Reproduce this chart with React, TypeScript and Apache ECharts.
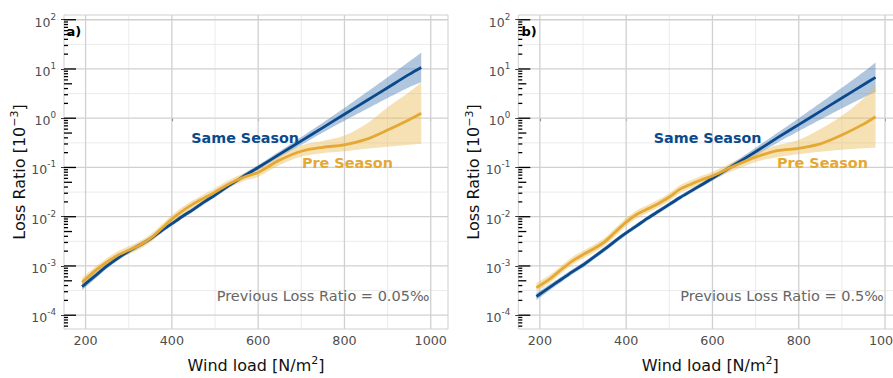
import React, { useEffect, useRef } from "react";
import * as echarts from "echarts";

// ---------- data (y values are log10 of Loss Ratio [10^-3]) ----------
const X = [192, 225, 250, 275, 300, 325, 350, 375, 400, 425, 450, 475, 500, 525, 550, 575, 600, 650, 700, 750, 800, 850, 900, 950, 978];

// Panel a) Previous Loss Ratio = 0.05‰
const SAME_A = [-3.42, -3.18, -3.0, -2.84, -2.7, -2.58, -2.45, -2.29, -2.14, -1.99, -1.85, -1.7, -1.56, -1.41, -1.27, -1.13, -1.0, -0.73, -0.46, -0.19, 0.08, 0.35, 0.62, 0.89, 1.03];
const SAME_A_LO = [-3.49, -3.24, -3.05, -2.89, -2.75, -2.63, -2.5, -2.34, -2.185, -2.035, -1.895, -1.745, -1.605, -1.455, -1.315, -1.18, -1.05, -0.79, -0.54, -0.29, -0.05, 0.18, 0.41, 0.63, 0.73];
const SAME_A_HI = [-3.35, -3.12, -2.95, -2.79, -2.65, -2.53, -2.4, -2.24, -2.095, -1.945, -1.805, -1.655, -1.515, -1.365, -1.225, -1.08, -0.95, -0.67, -0.38, -0.09, 0.21, 0.52, 0.83, 1.15, 1.33];
const PRE_A = [-3.33, -3.08, -2.92, -2.78, -2.68, -2.58, -2.44, -2.25, -2.05, -1.88, -1.74, -1.62, -1.5, -1.37, -1.26, -1.17, -1.1, -0.85, -0.67, -0.59, -0.54, -0.43, -0.24, -0.03, 0.1];
const PRE_A_LO = [-3.42, -3.16, -3.0, -2.86, -2.76, -2.66, -2.52, -2.33, -2.13, -1.96, -1.82, -1.7, -1.58, -1.45, -1.34, -1.25, -1.19, -0.95, -0.78, -0.71, -0.67, -0.62, -0.58, -0.54, -0.52];
const PRE_A_HI = [-3.24, -3.0, -2.84, -2.7, -2.6, -2.5, -2.36, -2.17, -1.97, -1.8, -1.66, -1.54, -1.42, -1.29, -1.18, -1.09, -1.01, -0.75, -0.55, -0.46, -0.35, -0.12, 0.22, 0.53, 0.73];

// Panel b) Previous Loss Ratio = 0.5‰
const SAME_B = [-3.62, -3.42, -3.27, -3.12, -2.98, -2.82, -2.66, -2.49, -2.33, -2.18, -2.03, -1.89, -1.75, -1.61, -1.48, -1.35, -1.22, -0.95, -0.68, -0.4, -0.13, 0.14, 0.41, 0.68, 0.83];
const SAME_B_LO = [-3.69, -3.48, -3.325, -3.17, -3.03, -2.87, -2.71, -2.54, -2.375, -2.225, -2.075, -1.935, -1.795, -1.655, -1.525, -1.395, -1.27, -1.01, -0.76, -0.5, -0.26, -0.03, 0.2, 0.42, 0.53];
const SAME_B_HI = [-3.55, -3.36, -3.215, -3.07, -2.93, -2.77, -2.61, -2.44, -2.285, -2.135, -1.985, -1.845, -1.705, -1.565, -1.435, -1.305, -1.17, -0.89, -0.6, -0.3, 0.0, 0.31, 0.62, 0.94, 1.13];
const PRE_B = [-3.44, -3.25, -3.07, -2.9, -2.77, -2.65, -2.51, -2.31, -2.11, -1.95, -1.84, -1.73, -1.6, -1.44, -1.34, -1.25, -1.17, -0.97, -0.79, -0.66, -0.61, -0.52, -0.34, -0.12, 0.03];
const PRE_B_LO = [-3.53, -3.33, -3.15, -2.98, -2.85, -2.73, -2.59, -2.39, -2.19, -2.03, -1.92, -1.81, -1.68, -1.52, -1.42, -1.33, -1.25, -1.06, -0.89, -0.79, -0.73, -0.68, -0.64, -0.61, -0.6];
const PRE_B_HI = [-3.35, -3.17, -2.99, -2.82, -2.69, -2.57, -2.43, -2.23, -2.03, -1.87, -1.76, -1.65, -1.52, -1.36, -1.26, -1.17, -1.09, -0.88, -0.69, -0.55, -0.44, -0.22, 0.05, 0.4, 0.67];

// axes
const X_MIN = 150;
const X_MAX = 1040;
const Y_MIN = -4.28;
const Y_MAX = 2.096;
const X_TICKS = [200, 400, 600, 800, 1000];
const X_MINOR = [300, 500, 700, 900];
const Y_TICKS = [-4, -3, -2, -1, 0, 1, 2];
const Y_MINOR = [-3.5, -2.5, -1.5, -0.5, 0.5, 1.5];
const LOG_DECADES = [-5, -4, -3, -2, -1, 0, 1, 2];
const LOG_STEPS = [1, 2, 3, 4, 5, 6, 7, 8, 9];

// annotations
const ANN_A = [
  { text: "Same Season", x: 571, y: -0.414, kind: "same" },
  { text: "Pre Season", x: 808, y: -0.91, kind: "pre" },
  { text: "Previous Loss Ratio = 0.05‰", x: 998, y: -3.615, kind: "note" },
  { text: "a)", x: 157, y: 1.757, kind: "tag" },
];
const ANN_B = [
  { text: "Same Season", x: 590, y: -0.414, kind: "same" },
  { text: "Pre Season", x: 856, y: -0.91, kind: "pre" },
  { text: "Previous Loss Ratio = 0.5‰", x: 998, y: -3.615, kind: "note" },
  { text: "b)", x: 158.6, y: 1.757, kind: "tag" },
];

// ---------- styles ----------
const FONT = "DejaVu Sans";
const BLUE = "#0a4a8c";
const GOLD = "#e4a833";
const BLUE_BAND = "rgba(80,128,184,0.45)";
const GOLD_BAND = "rgba(236,188,90,0.45)";
const MAJOR = "#d0d0d0";
const MINOR = "#e9e9e9";

function catmull(pts: number[][], steps: number) {
  const out: number[][] = [];
  const n = pts.length;
  for (let i = 0; i < n - 1; i++) {
    const p0 = pts[Math.max(0, i - 1)];
    const p1 = pts[i];
    const p2 = pts[i + 1];
    const p3 = pts[Math.min(n - 1, i + 2)];
    for (let s = 0; s < steps; s++) {
      const t = s / steps;
      const t2 = t * t;
      const t3 = t2 * t;
      const f = (a: number, b: number, c: number, d: number) =>
        0.5 * (2 * b + (-a + c) * t + (2 * a - 5 * b + 4 * c - d) * t2 + (-a + 3 * b - 3 * c + d) * t3);
      out.push([f(p0[0], p1[0], p2[0], p3[0]), f(p0[1], p1[1], p2[1], p3[1])]);
    }
  }
  out.push(pts[n - 1]);
  return out;
}

function gridRender(_params: any, api: any) {
  const children: any[] = [];
  const [xl, yb] = api.coord([X_MIN, Y_MIN]);
  const [xr, yt] = api.coord([X_MAX, Y_MAX]);
  const vline = (v: number, c: string, w: number) => {
    const [x] = api.coord([v, Y_MIN]);
    children.push({ type: "line", shape: { x1: x, y1: yb, x2: x, y2: yt }, style: { stroke: c, lineWidth: w } });
  };
  const hline = (v: number, c: string, w: number) => {
    const [, y] = api.coord([X_MIN, v]);
    children.push({ type: "line", shape: { x1: xl, y1: y, x2: xr, y2: y }, style: { stroke: c, lineWidth: w } });
  };
  X_MINOR.forEach((v) => vline(v, MINOR, 0.9));
  Y_MINOR.forEach((v) => hline(v, MINOR, 0.9));
  X_TICKS.forEach((v) => vline(v, MAJOR, 1.3));
  Y_TICKS.forEach((v) => hline(v, MAJOR, 1.3));
  return { type: "group", children };
}

function bandRender(lo: number[], hi: number[], color: string) {
  return (_params: any, api: any) => {
    const up = catmull(X.map((x, i) => api.coord([x, hi[i]])), 8);
    const dn = catmull(X.map((x, i) => api.coord([x, lo[i]])), 8).reverse();
    return { type: "polygon", shape: { points: up.concat(dn) }, style: { fill: color, stroke: "none" } };
  };
}

function logTickRender(_params: any, api: any) {
  const children: any[] = [];
  const [xl] = api.coord([X_MIN, Y_MIN]);
  LOG_DECADES.forEach((d) => {
    LOG_STEPS.forEach((k) => {
      const v = d + Math.log10(k);
      if (v < Y_MIN || v > Y_MAX) return;
      const [, y] = api.coord([X_MIN, v]);
      const len = k === 1 ? 12 : k === 5 ? 8 : 4;
      children.push({ type: "line", shape: { x1: xl, y1: y, x2: xl + len, y2: y }, style: { stroke: "#000000", lineWidth: 1.3 } });
    });
  });
  return { type: "group", children };
}

function annStyle(kind: string) {
  if (kind === "same") return { color: BLUE, fontWeight: "bold", fontSize: 14.3, align: "center" };
  if (kind === "pre") return { color: GOLD, fontWeight: "bold", fontSize: 14.4, align: "center" };
  if (kind === "note") return { color: "#666666", fontWeight: "normal", fontSize: 14.5, align: "right" };
  return { color: "#000000", fontWeight: "bold", fontSize: 13, align: "left" };
}

function panelSeries(gi: number, same: number[], sameLo: number[], sameHi: number[], pre: number[], preLo: number[], preHi: number[], ann: any[]) {
  const pts = (ys: number[]) => X.map((x, i) => [x, ys[i]]);
  const base = { xAxisIndex: gi, yAxisIndex: gi, silent: true };
  return [
    { ...base, type: "custom", renderItem: gridRender, data: [[X_MIN, Y_MIN]], z: 1 },
    { ...base, type: "custom", renderItem: bandRender(sameLo, sameHi, BLUE_BAND), data: [[X_MIN, Y_MIN]], z: 2 },
    { ...base, type: "custom", renderItem: bandRender(preLo, preHi, GOLD_BAND), data: [[X_MIN, Y_MIN]], z: 2 },
    { ...base, type: "line", data: pts(same), symbol: "none", smooth: 0.3, lineStyle: { color: BLUE, width: 2.8 }, z: 3 },
    { ...base, type: "line", data: pts(pre), symbol: "none", smooth: 0.3, lineStyle: { color: GOLD, width: 2.8 }, z: 3 },
    { ...base, type: "custom", renderItem: logTickRender, data: [[X_MIN, Y_MIN]], z: 4 },
    {
      ...base,
      type: "scatter",
      symbolSize: 1,
      itemStyle: { color: "rgba(255,255,255,0)" },
      z: 5,
      data: ann.map((a) => ({
        value: [a.x, a.y],
        label: {
          show: true,
          position: [0, 0],
          verticalAlign: "middle",
          formatter: a.text,
          fontFamily: FONT,
          textBorderWidth: 0,
          opacity: 1,
          ...annStyle(a.kind),
        },
      })),
    },
  ];
}

function xAxisFor(gi: number) {
  return {
    type: "value",
    gridIndex: gi,
    min: X_MIN,
    max: X_MAX,
    name: "Wind load [N/m{sup|2}]",
    nameLocation: "middle",
    nameGap: 26,
    nameTextStyle: {
      fontFamily: FONT,
      fontSize: 16,
      color: "#111111",
      rich: { sup: { fontFamily: FONT, fontSize: 11, color: "#111111", padding: [0, 0, 9, 0] } },
    },
    axisLine: { show: false },
    axisTick: { show: true, customValues: X_TICKS, length: 3, lineStyle: { color: "#333", width: 1 } },
    axisLabel: { customValues: X_TICKS, formatter: (v: number) => String(v), color: "#4d4d4d", fontFamily: FONT, fontSize: 12.7, margin: 5 },
    splitLine: { show: false },
  };
}

function yAxisFor(gi: number) {
  return {
    type: "value",
    gridIndex: gi,
    min: Y_MIN,
    max: Y_MAX,
    name: "Loss Ratio [10{sup|−3}]",
    nameLocation: "middle",
    nameGap: 34,
    nameTextStyle: {
      fontFamily: FONT,
      fontSize: 16,
      color: "#111111",
      rich: { sup: { fontFamily: FONT, fontSize: 11, color: "#111111", padding: [0, 0, 9, 0] } },
    },
    axisLine: { show: false },
    axisTick: { show: true, customValues: Y_TICKS, length: 3, lineStyle: { color: "#333", width: 1 } },
    axisLabel: {
      customValues: Y_TICKS,
      margin: 8,
      formatter: (v: number) => `{b|10}{sup|${Math.round(v)}}`,
      rich: {
        b: { fontFamily: FONT, fontSize: 12.5, color: "#4d4d4d", padding: [5, 0, 0, 0] },
        sup: { fontFamily: FONT, fontSize: 8.8, color: "#4d4d4d", padding: [0, 0, 6, 0] },
      },
    },
    splitLine: { show: false },
  };
}

export default function App() {
  const ref = useRef<HTMLDivElement>(null);
  useEffect(() => {
    if (!ref.current) return;
    const chart = echarts.init(ref.current, undefined, { renderer: "svg" });
    const gridStyle = { show: true, borderColor: "#cfcfcf", borderWidth: 1, backgroundColor: "#fff", containLabel: false };
    chart.setOption({
      animation: false,
      backgroundColor: "#fff",
      grid: [
        { ...gridStyle, left: 64, top: 15, width: 384, height: 320 },
        { ...gridStyle, left: 518.3, top: 15, width: 384, height: 320 },
      ],
      xAxis: [xAxisFor(0), xAxisFor(1)],
      yAxis: [yAxisFor(0), yAxisFor(1)],
      series: [
        ...panelSeries(0, SAME_A, SAME_A_LO, SAME_A_HI, PRE_A, PRE_A_LO, PRE_A_HI, ANN_A),
        ...panelSeries(1, SAME_B, SAME_B_LO, SAME_B_HI, PRE_B, PRE_B_LO, PRE_B_HI, ANN_B),
      ],
    });
    return () => chart.dispose();
  }, []);
  return (
    <div style={{ position: "fixed", left: 0, top: 0, width: 893, height: 378, overflow: "hidden", background: "#fff" }}>
      <div ref={ref} style={{ width: 912, height: 378 }} />
    </div>
  );
}
